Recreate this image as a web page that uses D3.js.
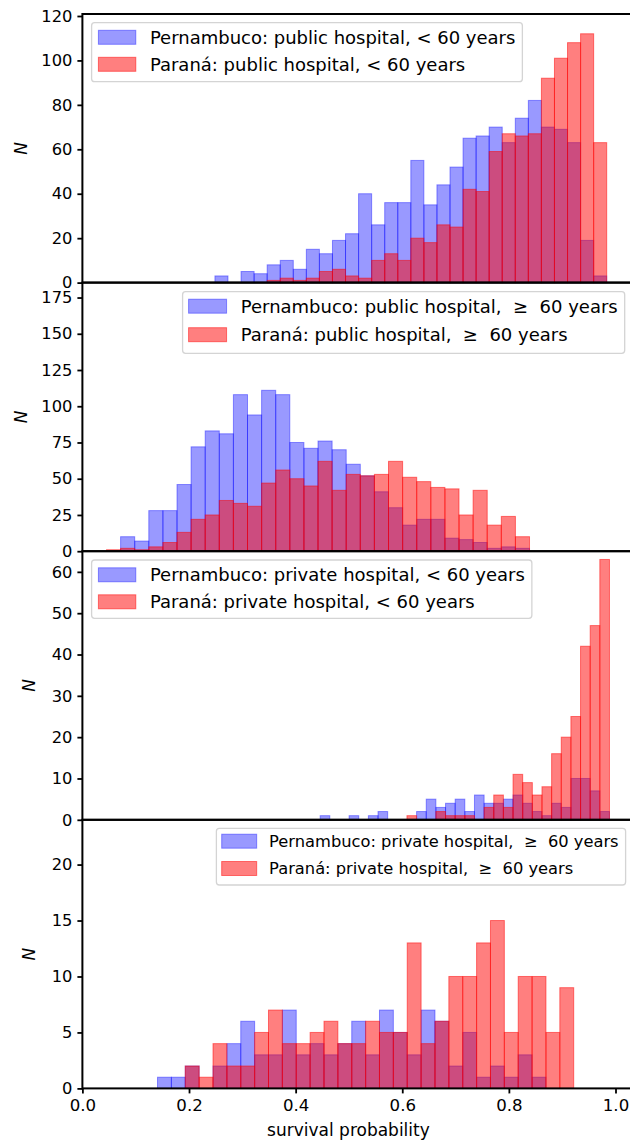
<!DOCTYPE html>
<html>
<head>
<meta charset="utf-8">
<script src="https://cdn.jsdelivr.net/npm/d3@7"></script>
<style>
  html, body { margin: 0; padding: 0; background: #fff; }
  svg { display: block; font-family: "DejaVu Sans", sans-serif; }
  .leg text { white-space: pre; }
</style>
</head>
<body>
<div id="chart"></div>
<script>
// histogram bins: [first edge, last edge], 30 bins each panel
const binRanges = [[0.2486, 0.9835], [0.0452, 0.8387], [0.446, 0.9887], [0.1409, 0.9216]];
const nBins = 30;

// counts per bin
const pePublicYoung = [3, 0, 5, 4, 8, 10, 6, 15, 13, 19, 22, 40, 26, 36, 36, 55, 35, 44, 52, 65, 66, 70, 63, 74, 82, 70, 69, 63, 19, 3];
const prPublicYoung = [0, 0, 0, 0, 1, 2, 1, 2, 5, 6, 3, 2, 10, 13, 10, 20, 18, 26, 25, 42, 41, 59, 67, 66, 67, 92, 101, 108, 112, 63];
const pePublicOld = [0, 10, 7, 28, 28, 46, 72, 83, 81, 108, 94, 111, 108, 75, 71, 76, 70, 60, 52, 41, 30, 18, 22, 22, 9, 8, 6, 2, 3, 2];
const prPublicOld = [1, 2, 1, 3, 6, 13, 22, 25, 35, 33, 31, 47, 56, 50, 45, 62, 42, 53, 52, 53, 62, 51, 48, 44, 43, 25, 42, 18, 24, 10];
const pePrivateYoung = [1, 0, 0, 1, 0, 1, 2, 0, 0, 0, 2, 5, 3, 4, 5, 2, 6, 4, 4, 5, 6, 4, 2, 1, 4, 3, 10, 10, 7, 2];
const prPrivateYoung = [0, 0, 0, 0, 0, 0, 0, 0, 0, 1, 0, 0, 2, 1, 1, 1, 0, 3, 6, 3, 11, 9, 6, 8, 16, 20, 25, 42, 47, 63];
const pePrivateOld = [1, 1, 2, 0, 2, 4, 6, 3, 3, 7, 3, 4, 3, 4, 6, 3, 7, 5, 3, 7, 6, 2, 5, 1, 2, 1, 3, 1, 0, 0];
const prPrivateOld = [0, 0, 2, 1, 4, 2, 2, 5, 7, 4, 4, 5, 6, 4, 4, 6, 5, 5, 13, 4, 6, 10, 10, 13, 15, 5, 10, 10, 5, 9];

const legendLabels = [
  ["Pernambuco: public hospital, < 60 years", "Paraná: public hospital, < 60 years"],
  ["Pernambuco: public hospital,  \u2265  60 years", "Paraná: public hospital,  \u2265  60 years"],
  ["Pernambuco: private hospital, < 60 years", "Paraná: private hospital, < 60 years"],
  ["Pernambuco: private hospital,  \u2265  60 years", "Paraná: private hospital,  \u2265  60 years"]
];
const yMax = [120.9, 185.3, 65, 24];
const yTicks = [[0, 20, 40, 60, 80, 100, 120], [0, 25, 50, 75, 100, 125, 150, 175], [0, 10, 20, 30, 40, 50, 60], [0, 5, 10, 15, 20]];
const xTicks = [0, 0.2, 0.4, 0.6, 0.8, 1.0];

const peSeries = [pePublicYoung, pePublicOld, pePrivateYoung, pePrivateOld];
const prSeries = [prPublicYoung, prPublicOld, prPrivateYoung, prPrivateOld];

//layout
const width = 630, height = 1140;
const left = 82.4, panelTop = 14, panelH = 268.6;
const blue = "rgba(0,0,255,0.4)", red = "rgba(255,0,0,0.5)";

// legend layout: anchor side, box x (left or right edge), box top, font size
const legendPos = [
  {side: "left", x: 91.6, y: 22.7, fs: 18, rowGap: 27, first: 14.6, boxH: 59, patchW: 37.4, patchOff: 6.8, textOff: 58.3},
  {side: "right", x: 624.7, y: 291.7, fs: 18, rowGap: 28.5, first: 14.5, boxH: 61.6, patchW: 38, patchOff: 6, textOff: 58.2},
  {side: "left", x: 91.6, y: 560, fs: 18, rowGap: 27, first: 14.8, boxH: 58.3, patchW: 37.4, patchOff: 6.8, textOff: 58.3},
  {side: "right", x: 625.6, y: 828.3, fs: 16.3, rowGap: 27.3, first: 12.9, boxH: 56.7, patchW: 35, patchOff: 5.3, textOff: 52.7}
];

const x = d3.scaleLinear().domain([0, 1]).range([left, 615.5]);

const svg = d3.select("#chart").append("svg")
    .attr("width", width)
    .attr("height", height);

for (let p = 0; p < 4; p++) {
  const top = panelTop + p * panelH;
  const y = d3.scaleLinear().domain([0, yMax[p]]).range([top + panelH, top]);
  const [lo, hi] = binRanges[p];
  const bw = (hi - lo) / nBins;

  const g = svg.append("g");

  //blue first, red drawn over it
  [[peSeries[p], blue], [prSeries[p], red]].forEach(([vals, col]) => {
    g.append("g").selectAll("rect")
      .data(vals.map((v, i) => ({x0: lo + i * bw, x1: lo + (i + 1) * bw, v: v})).filter(d => d.v > 0))
      .enter().append("rect")
        .attr("x", d => x(d.x0))
        .attr("width", d => x(d.x1) - x(d.x0))
        .attr("y", d => y(d.v))
        .attr("height", d => y(0) - y(d.v))
        .attr("fill", col)
        .attr("stroke", col)
        .attr("stroke-width", 1);
  });

  // y axis
  const yAxis = g.append("g")
      .attr("transform", "translate(" + left + ",0)")
      .call(d3.axisLeft(y).tickValues(yTicks[p]).tickSize(5).tickPadding(5).tickFormat(d3.format("d")));
  yAxis.select(".domain").remove();
  yAxis.selectAll("line").attr("stroke", "#000").attr("stroke-width", 1.8);
  yAxis.selectAll("text").attr("font-size", 16.3).attr("fill", "#000")
      .attr("font-family", "DejaVu Sans");

  // frame
  g.append("rect")
    .attr("x", left).attr("y", top)
    .attr("width", 640 - left).attr("height", panelH)
    .attr("fill", "none").attr("stroke", "#000").attr("stroke-width", 2);

  // y label
  const labX = p < 2 ? 27 : 35;
  g.append("text")
    .attr("transform", "translate(" + labX + "," + (top + panelH / 2) + ") rotate(-90)")
    .attr("text-anchor", "middle")
    .attr("font-size", 17)
    .attr("font-style", "italic")
    .text("N");

  // legend
  const lp = legendPos[p];
  const leg = g.append("g").attr("class", "leg");
  const box = leg.append("rect")
    .attr("y", lp.y).attr("height", lp.boxH)
    .attr("rx", 3)
    .attr("fill", "rgba(255,255,255,0.8)")
    .attr("stroke", "#d4d4d4").attr("stroke-width", 1.3);
  const texts = legendLabels[p].map((t, i) => leg.append("text")
    .attr("y", lp.y + lp.first + i * lp.rowGap)
    .attr("dy", "0.35em")
    .attr("font-size", lp.fs)
    .text(t));
  const maxLen = d3.max(texts, t => t.node().getComputedTextLength());
  const boxW = lp.textOff + maxLen + 7;
  const bx = lp.side === "left" ? lp.x : lp.x - boxW;
  box.attr("x", bx).attr("width", boxW);
  texts.forEach(t => t.attr("x", bx + lp.textOff));
  [blue, red].forEach((col, i) => {
    leg.append("rect")
      .attr("x", bx + lp.patchOff)
      .attr("y", lp.y + lp.first + i * lp.rowGap - 7)
      .attr("width", lp.patchW).attr("height", 14)
      .attr("fill", col).attr("stroke", col);
  });

  if (p === 3) {
    const xAxis = g.append("g")
        .attr("transform", "translate(0," + (top + panelH) + ")")
        .call(d3.axisBottom(x).tickValues(xTicks).tickSize(5).tickPadding(6).tickFormat(d3.format(".1f")));
    xAxis.select(".domain").remove();
    xAxis.selectAll("line").attr("stroke", "#000").attr("stroke-width", 1.8);
    xAxis.selectAll("text").attr("font-size", 16.6).attr("fill", "#000")
        .attr("font-family", "DejaVu Sans");
    g.append("text")
      .attr("x", x(0.5) - 0.5)
      .attr("y", top + panelH + 48)
      .attr("text-anchor", "middle")
      .attr("font-size", 17)
      .text("survival probability");
  }
}
</script>
</body>
</html>
